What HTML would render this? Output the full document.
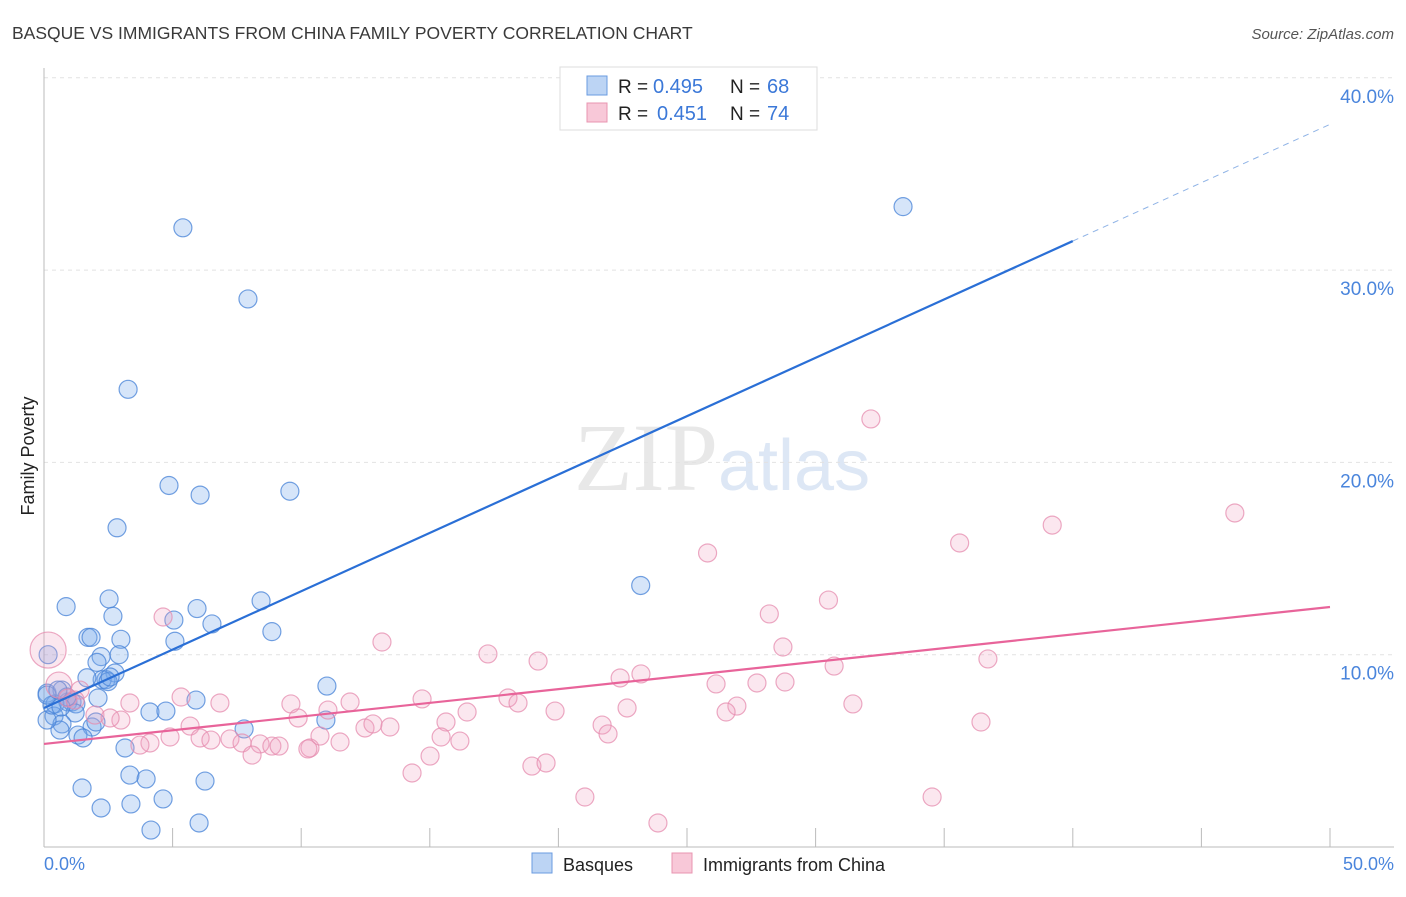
<!DOCTYPE html>
<html><head><meta charset="utf-8"><style>
body{margin:0;background:#fff;font-family:"Liberation Sans",sans-serif}
</style></head><body>
<svg width="1406" height="892" xmlns="http://www.w3.org/2000/svg">
<text x="12" y="39" font-size="17.5" fill="#3a3a3a">BASQUE VS IMMIGRANTS FROM CHINA FAMILY POVERTY CORRELATION CHART</text>
<text x="1394" y="39" font-size="15" fill="#555" font-style="italic" text-anchor="end">Source: ZipAtlas.com</text>
<text x="718" y="490" font-size="96" fill="#e8e8e8" text-anchor="end" font-family="Liberation Serif">ZIP</text>
<text x="718" y="490" font-size="72" fill="#dde7f5">atlas</text>
<g id="grid"></g><g id="axes"></g><g id="pts"></g><g id="lines"></g>
<text x="34" y="456" font-size="18" fill="#222" transform="rotate(-90 34 456)" text-anchor="middle">Family Poverty</text>
<text x="44" y="870" font-size="18" fill="#4a85dc">0.0%</text>
<text x="1394" y="870" font-size="18" fill="#4a85dc" text-anchor="end">50.0%</text>
<g>
<rect x="560" y="67" width="257" height="63" fill="#fff" stroke="#ddd"/>
<rect x="587" y="76" width="20" height="19" fill="#bcd4f4" stroke="#6a9be0"/>
<rect x="587" y="103" width="20" height="19" fill="#f8c8d8" stroke="#e895b0"/>
<text x="618" y="93" font-size="19" fill="#222">R =</text><text x="653" y="93" font-size="20" fill="#3b78d8">0.495</text>
<text x="730" y="93" font-size="19" fill="#222">N =</text><text x="767" y="93" font-size="20" fill="#3b78d8">68</text>
<text x="618" y="120" font-size="19" fill="#222">R =</text><text x="657" y="120" font-size="20" fill="#3b78d8">0.451</text>
<text x="730" y="120" font-size="19" fill="#222">N =</text><text x="767" y="120" font-size="20" fill="#3b78d8">74</text>
</g>
<g>
<rect x="532" y="853" width="20" height="20" fill="#bcd4f4" stroke="#6a9be0"/>
<text x="563" y="871" font-size="18" fill="#222">Basques</text>
<rect x="672" y="853" width="20" height="20" fill="#f8c8d8" stroke="#e895b0"/>
<text x="703" y="871" font-size="18" fill="#222">Immigrants from China</text>
</g>
</svg>
<script>
const yTicks=[10,20,30,40];
const xTicks=[0,5,10,15,20,25,30,35,40,45,50];
const blueX=[5.4,7.93,3.27,4.86,6.07,9.56,2.84,33.4,23.2,0.86,2.53,2.68,5.95,8.44,6.53,8.86,5.05,1.71,1.83,2.99,5.09,0.16,2.22,2.92,2.06,2.76,2.41,2.26,1.67,2.49,0.12,0.70,2.10,5.91,0.43,0.93,1.09,1.24,4.12,4.74,11.0,0.39,1.21,0.70,1.87,0.62,2.02,1.32,1.52,7.78,10.96,3.15,3.34,3.97,4.63,1.48,2.22,3.38,6.26,4.16,6.03,0.12,0.31,0.89,0.12,0.54,2.57,0.66];
const blueY=[32.2,28.5,23.8,18.8,18.3,18.5,16.6,33.3,13.6,12.5,12.9,12.0,12.4,12.8,11.6,11.2,11.8,10.9,10.9,10.8,10.7,10.0,9.9,10.0,9.6,9.05,8.7,8.7,8.8,8.6,8.0,8.16,7.75,7.64,7.44,7.54,7.54,7.44,7.02,7.07,8.37,6.81,6.97,6.40,6.24,6.08,6.50,5.82,5.67,6.14,6.60,5.15,3.74,3.54,2.50,3.07,2.03,2.24,3.43,0.88,1.25,6.60,7.38,7.80,7.90,8.16,8.84,7.28];
const pinkX=[0.16,0.58,32.15,46.3,39.2,25.8,35.6,28.2,30.5,4.63,13.14,17.26,19.21,28.73,30.72,36.70,23.21,22.40,26.13,27.72,28.81,5.33,6.84,9.60,11.04,11.90,14.70,18.04,18.43,22.67,26.94,26.52,31.45,36.43,1.40,0.93,1.21,1.98,3.34,2.99,5.68,9.88,15.63,16.45,19.87,21.70,21.93,6.07,6.49,7.23,7.70,8.40,8.86,9.14,10.34,10.73,11.51,12.48,12.79,13.45,15.44,16.17,4.12,3.73,4.90,8.09,10.26,15.01,14.31,18.97,19.52,21.03,34.53,23.87,2.57];
const pinkY=[10.24,8.42,22.26,17.37,16.74,15.29,15.81,12.12,12.84,11.96,10.66,10.04,9.67,10.40,9.41,9.78,9.00,8.79,8.48,8.53,8.58,7.80,7.49,7.44,7.12,7.54,7.70,7.75,7.49,7.23,7.33,7.02,7.44,6.50,8.16,7.75,7.64,6.86,7.49,6.60,6.29,6.71,6.50,7.02,7.07,6.34,5.88,5.67,5.56,5.62,5.41,5.36,5.25,5.25,5.15,5.77,5.46,6.19,6.40,6.24,5.72,5.51,5.41,5.30,5.72,4.78,5.10,4.73,3.85,4.21,4.37,2.60,2.60,1.25,6.71];
const pinkR=[18,13];
const blueLine=[7.23,0.607];
const pinkLine=[5.36,0.1424];
const NS='http://www.w3.org/2000/svg';
const X=v=>44+v*25.72, Y=v=>847-v*19.23;
function mk(p,t,a){const e=document.createElementNS(NS,t);for(const k in a)e.setAttribute(k,a[k]);document.getElementById(p).appendChild(e);return e;}
yTicks.forEach(t=>{const l=mk('grid','line',{x1:44,x2:1394,y1:Y(t),y2:Y(t),stroke:'#e2e2e2','stroke-dasharray':'4,4'});


const tx=mk('grid','text',{x:1394,y:Y(t)+25,'font-size':19,fill:'#4a85dc','text-anchor':'end'});tx.textContent=t.toFixed(1)+'%';

});
const ya=mk('axes','line',{x1:44,x2:44,y1:68,y2:847,stroke:'#bbb'});


const xa=mk('axes','line',{x1:44,x2:1394,y1:847,y2:847,stroke:'#bbb'});


xTicks.forEach(t=>{const l=mk('axes','line',{x1:X(t),x2:X(t),y1:828,y2:847,stroke:'#bbb'});

});
blueX.forEach((x,i)=>{const c=mk('pts','circle',{cx:X(x),cy:Y(blueY[i]),r:9,fill:'rgba(120,170,235,0.3)',stroke:'rgba(70,130,215,0.75)','stroke-width':1.2});

});
pinkX.forEach((x,i)=>{const c=mk('pts','circle',{cx:X(x),cy:Y(pinkY[i]),r:pinkR[i]||9,fill:'rgba(240,160,190,0.25)',stroke:'rgba(230,140,175,0.75)','stroke-width':1.2});

});
const f=(L,x)=>L[0]+L[1]*x;
const b1=mk('lines','line',{x1:X(0),y1:Y(f(blueLine,0)),x2:X(40),y2:Y(f(blueLine,40)),stroke:'#2a6fd6','stroke-width':2.2});


const b2=mk('lines','line',{x1:X(40),y1:Y(f(blueLine,40)),x2:X(50),y2:Y(f(blueLine,50)),stroke:'#8fb3e6','stroke-width':1,'stroke-dasharray':'6,5'});


const p1=mk('lines','line',{x1:X(0),y1:Y(f(pinkLine,0)),x2:X(50),y2:Y(f(pinkLine,50)),stroke:'#e8649a','stroke-width':2.2});


</script>
</body></html>
